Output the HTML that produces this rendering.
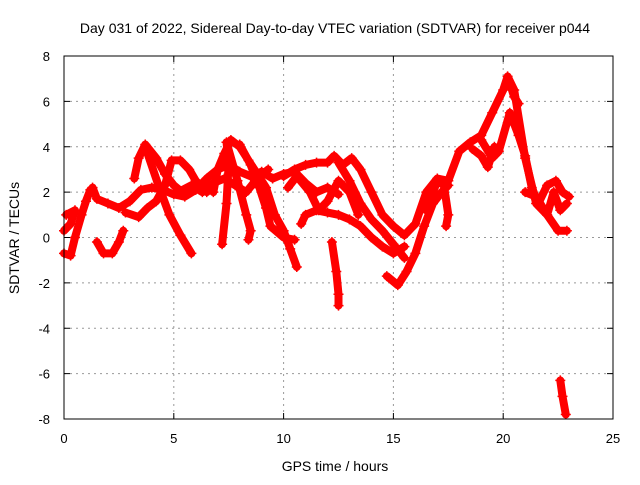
<!DOCTYPE html>
<html><head><meta charset="utf-8"><style>
body{margin:0;background:#fff;}
svg text{font-family:"Liberation Sans",sans-serif;fill:#000;}
</style></head><body>
<svg id="chart" width="640" height="480" xmlns="http://www.w3.org/2000/svg">
<rect width="640" height="480" fill="#fff"/>
<text x="335" y="33" font-size="14" text-anchor="middle">Day 031 of 2022, Sidereal Day-to-day VTEC variation (SDTVAR) for receiver p044</text>
<text x="335" y="471" font-size="14" text-anchor="middle">GPS time / hours</text>
<text transform="translate(19,238) rotate(-90)" font-size="14" text-anchor="middle">SDTVAR / TECUs</text>
<g id="grid"></g><g id="marks"></g><g id="axes"></g>
</svg>
<script>
const xTicks=[0,5,10,15,20,25];
const yTicks=[-8,-6,-4,-2,0,2,4,6,8];
const track1=[[0,-0.7],[0.3,-0.8],[0.5,0],[0.8,1],[1.0,1.6],[1.2,2.1]];
const track2=[[0,0.3],[0.3,0.6],[0.5,1.2],[0.1,1.0],[0.4,1.1]];
const track3=[[1.3,2.2],[1.5,1.7],[2,1.5],[2.5,1.3],[3,1.6],[3.5,2.1],[4,2.2],[4.5,2.1],[5,1.9],[5.5,1.8],[6,2.1],[6.5,2.6],[7,3],[7.5,3.2],[8,2.9],[8.5,2.7],[9,2.9],[9.5,2.6],[10,2.8],[10.5,2.9],[11,2.4],[11.5,2],[12,2.2],[12.5,1.9]];
const track4=[[1.5,-0.2],[1.8,-0.7],[2.2,-0.7],[2.5,-0.2],[2.7,0.3]];
const track5=[[3.2,2.6],[3.4,3.5],[3.7,4.1],[4.2,3.5],[4.6,2.8],[5,2.3],[5.5,1.9]];
const track6=[[3.7,4.0],[4.3,2.3],[4.8,1.0],[5.3,0.1],[5.8,-0.7]];
const track7=[[2.8,1.1],[3.4,0.9],[3.8,1.3],[4.2,1.6],[4.6,2.3],[4.9,3.4],[5.3,3.4],[5.7,3.0],[6,2.5],[6.5,2.0]];
const track8=[[6.8,2.0],[7,3.0],[7.3,3.7],[7.6,4.3],[8,4.0],[8.4,3.4],[8.8,2.8],[9.2,2.2],[9.6,1.0],[10,0.3],[10.3,-0.5],[10.6,-1.3]];
const track9=[[7.2,-0.3],[7.4,1.5],[7.5,3.3],[7.4,4.2],[7.9,2.5],[8.3,1.0],[8.5,0.3],[8.4,-0.1]];
const track10=[[8.0,4.1],[8.5,3.2],[8.9,2.2],[9.2,1.3],[9.4,0.5],[10,0.0],[10.5,-0.1]];
const track11=[[10,2.7],[10.5,3],[11,3.2],[11.5,3.3],[12,3.3],[12.3,3.6],[12.7,3.2],[13.1,3.5],[13.5,3.0],[14,2.0],[14.5,1.0],[15,0.5],[15.5,0.1],[16,0.6],[16.5,2.0],[17,2.6],[17.5,2.5],[18,3.8],[18.5,4.2],[19,4.5],[19.5,5.5],[20,6.5],[20.2,7.1],[20.5,6.5],[21,3.5],[21.5,1.5],[22,1.0],[22.5,0.3],[22.9,0.3]];
const track12=[[12.2,-0.2],[12.4,-1.5],[12.5,-2.5],[12.5,-3.0]];
const track13=[[14.7,-1.7],[15.2,-2.1],[15.6,-1.5],[16,-0.7],[16.4,0.5],[16.8,1.5],[17.2,2.0],[17.5,2.3]];
const track14=[[10.8,0.6],[11,1.0],[11.5,1.2],[12,1.1],[12.5,1.0],[13,0.8],[13.5,0.5],[14,0],[14.5,-0.4],[15,-0.7],[15.5,-0.4]];
const track15=[[12.5,3.3],[13,2.5],[13.5,1.5],[14,0.8],[14.5,0.3],[15,-0.3],[15.5,-0.9]];
const track16=[[16.5,1.2],[17,2.5],[17.3,2.3],[17.5,1.0],[17.4,0.5]];
const track17=[[19,4.3],[19.5,3.5],[19.8,3.8],[20.3,5.5],[20.7,4.5],[21,3.6],[21.3,2.2],[21.6,1.5],[22,2.3],[22.4,2.5],[22.7,2.0],[23,1.8]];
const track18=[[20.3,6.8],[20.5,6.2],[20.7,5.9]];
const track19=[[22.6,-6.3],[22.7,-7.0],[22.85,-7.8]];
const track20=[[18.6,3.9],[19,3.6],[19.3,3.1],[19.6,4.0]];
const track21=[[21.0,2.0],[21.5,1.8],[22,1.0],[22.3,2.0],[22.6,1.2],[22.9,1.5]];
const track22=[[5.2,2.0],[5.8,2.3],[6.3,2.0],[6.8,2.4],[7.3,2.6],[7.8,2.3],[8.3,2.0],[8.8,2.6],[9.3,3.0]];
const track23=[[10.2,2.2],[10.6,2.7],[11.2,2.0],[11.6,1.2],[12.0,1.6],[12.5,2.5],[13.0,2.0],[13.4,1.0]];
const tracks=[track1,track2,track3,track4,track5,track6,track7,track8,track9,track10,track11,track12,track13,track14,track15,track16,track17,track18,track19,track20,track21,track22,track23];

const X0=64,X1=613,Y0=419,Y1=56;
const xs=h=>X0+(h-0)/(25-0)*(X1-X0);
const ys=v=>Y0-(v+8)/16*(Y0-Y1);
const NS="http://www.w3.org/2000/svg";
const grid=document.getElementById('grid'),marks=document.getElementById('marks'),axes=document.getElementById('axes');
function mk(tag,attrs,parent){const e=document.createElementNS(NS,tag);for(const k in attrs)e.setAttribute(k,attrs[k]);parent.appendChild(e);return e;}
xTicks.forEach(t=>{
  if(t>0&&t<25){const g=mk('line',{x1:xs(t),x2:xs(t),y1:Y1,y2:Y0,stroke:'#999','stroke-dasharray':'2,4'},grid);
  
  }
  const tx=mk('text',{x:xs(t),y:Y0+24,'font-size':13,'text-anchor':'middle'},axes);tx.textContent=t;
  
  
  mk('line',{x1:xs(t),x2:xs(t),y1:Y0,y2:Y0-6,stroke:'#000'},axes);
  mk('line',{x1:xs(t),x2:xs(t),y1:Y1,y2:Y1+6,stroke:'#000'},axes);
});
yTicks.forEach(t=>{
  if(t>-8&&t<8){const g=mk('line',{x1:X0,x2:X1,y1:ys(t),y2:ys(t),stroke:'#999','stroke-dasharray':'2,4'},grid);
  
  }
  const tx=mk('text',{x:X0-14,y:ys(t)+5,'font-size':13,'text-anchor':'end'},axes);tx.textContent=t;
  
  
  mk('line',{x1:X0,x2:X0+6,y1:ys(t),y2:ys(t),stroke:'#000'},axes);
  mk('line',{x1:X1,x2:X1-6,y1:ys(t),y2:ys(t),stroke:'#000'},axes);
});
const fr=mk('rect',{x:X0,y:Y1,width:X1-X0,height:Y0-Y1,fill:'none',stroke:'#000'},axes);


tracks.forEach(tr=>{
  const pl=mk('polyline',{points:tr.map(p=>xs(p[0])+','+ys(p[1])).join(' '),fill:'none',stroke:'#f00','stroke-width':8,'stroke-linejoin':'round','stroke-linecap':'round'},marks);
  
  
  tr.forEach(p=>{
    const x=xs(p[0]),y=ys(p[1]);
    const m=mk('path',{d:`M${x-5},${y}H${x+5}M${x},${y-5}V${y+5}`,stroke:'#f00','stroke-width':1.5},marks);
    
    
  });
});
</script>
</body></html>
